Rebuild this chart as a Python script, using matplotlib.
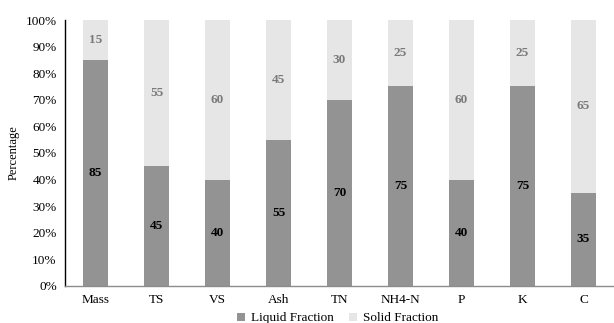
import matplotlib
matplotlib.use("Agg")
import matplotlib.pyplot as plt
from matplotlib.ticker import FuncFormatter

categories = ["Mass", "TS", "VS", "Ash", "TN", "NH4-N", "P", "K", "C"]
liquid = [85, 45, 40, 55, 70, 75, 40, 75, 35]
solid = [15, 55, 60, 45, 30, 25, 60, 25, 65]

plt.rcParams['font.family'] = ['Liberation Serif', 'DejaVu Serif']

fig = plt.figure(figsize=(6.14, 3.23), dpi=100)
ax = fig.add_axes([0.106, 0.115, 0.894, 0.823])

liq_c = "#939393"
sol_c = "#e6e6e6"
x = list(range(len(categories)))
w = 0.4
ax.bar(x, liquid, w, color=liq_c, label="Liquid Fraction")
ax.bar(x, solid, w, bottom=liquid, color=sol_c, label="Solid Fraction")

for i in x:
    ax.text(i, liquid[i] / 2, str(liquid[i]), ha="center", va="center",
            fontsize=9.5, fontweight="bold", color="black")
    ax.text(i, liquid[i] + solid[i] / 2, str(solid[i]), ha="center", va="center",
            fontsize=9.5, fontweight="bold", color="#7a7a7a")

ax.set_xlim(-0.5, len(categories) - 0.5)
ax.set_ylim(0, 100)
ax.set_yticks(range(0, 101, 10))
ax.yaxis.set_major_formatter(FuncFormatter(lambda v, p: f"{int(v)}%"))
ax.set_xticks(x)
ax.set_xticklabels(categories)
ax.tick_params(axis="both", length=0, labelsize=9.5, pad=6)
ax.set_ylabel("Percentage", fontsize=9)
for s in ["top", "right"]:
    ax.spines[s].set_visible(False)
ax.spines["left"].set_color("black")
ax.spines["left"].set_linewidth(1.0)
ax.spines["bottom"].set_color("#8c8c8c")
ax.spines["bottom"].set_linewidth(1.0)

fig.legend(loc="center", bbox_to_anchor=(0.55, 0.014), ncol=2, frameon=False,
           fontsize=9.5, handlelength=0.6, handleheight=0.6, handletextpad=0.4,
           columnspacing=1.2)

fig.savefig("out.png", dpi=100)
